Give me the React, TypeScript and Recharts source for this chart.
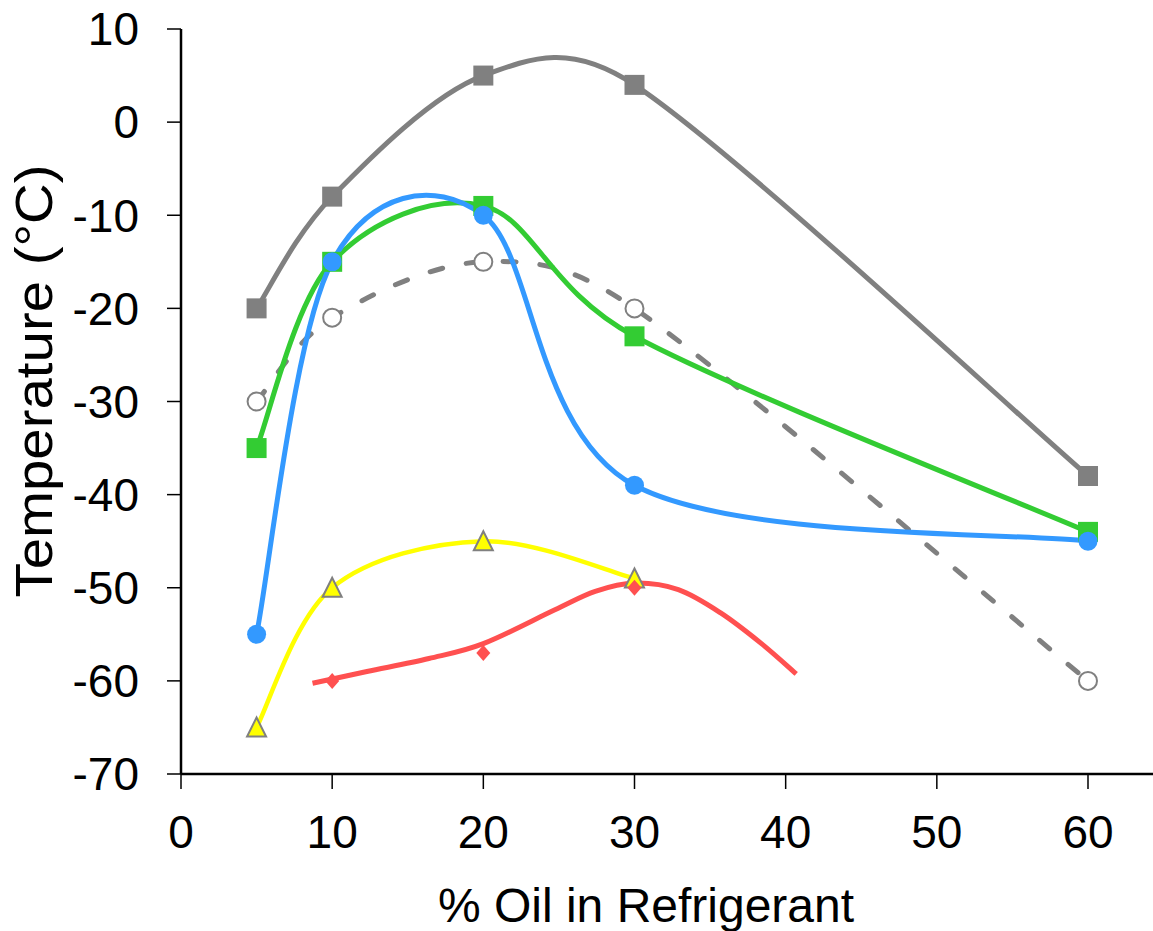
import React from 'react';
import { ComposedChart, Line, XAxis, YAxis, Label } from 'recharts';

// ---- data ----
const X_VALUES = [5, 10, 20, 30, 60];
const GRAY_SOLID = [-20, -8, 5, 4, -38];
const GRAY_DASHED = [-30, -21, -15, -20, -60];
const GREEN = [-35, -15, -9, -23, -44];
const BLUE = [-55, -15, -10, -39, -45];
const YELLOW_X = [5, 10, 20, 30];
const YELLOW = [-65, -50, -45, -49];
const RED_X = [10, 20, 30];
const RED = [-60, -57, -50];
const RED_FIT_X = [8.7, 12.3, 16.4, 20, 24.7, 27.4, 30, 32.9, 35.7, 38.4, 40.7];
const RED_FIT_Y = [-60.25, -59, -57.6, -56, -52.4, -50.4, -49.5, -50.2, -52.7, -56, -59.25];
const X_TICKS = [0, 10, 20, 30, 40, 50, 60];
const Y_TICKS = [-70, -60, -50, -40, -30, -20, -10, 0, 10];

const toData = (xs: number[], ys: number[]) => xs.map((x, i) => ({ x, y: ys[i] }));

// ---- spreadsheet-style smoothed curve (Bezier, arms = (next - prev)/6, capped at half segment) ----
class SmoothCurve {
  _context: any;
  _pts: [number, number][] = [];
  _line: number = NaN;
  constructor(context: any) { this._context = context; }
  areaStart() { this._line = 0; }
  areaEnd() { this._line = NaN; }
  lineStart() { this._pts = []; }
  point(x: number, y: number) { this._pts.push([+x, +y]); }
  lineEnd() {
    const p = this._pts;
    const ctx = this._context;
    const n = p.length;
    if (n === 0) return;
    if (this._line) ctx.lineTo(p[0][0], p[0][1]); else ctx.moveTo(p[0][0], p[0][1]);
    for (let i = 0; i < n - 1; i++) {
      const p0 = p[i - 1] || p[i];
      const p1 = p[i];
      const p2 = p[i + 1];
      const p3 = p[i + 2] || p[i + 1];
      const d = Math.hypot(p2[0] - p1[0], p2[1] - p1[1]);
      let a1x = (p2[0] - p0[0]) / 6, a1y = (p2[1] - p0[1]) / 6;
      let a2x = (p3[0] - p1[0]) / 6, a2y = (p3[1] - p1[1]) / 6;
      const l1 = Math.hypot(a1x, a1y), l2 = Math.hypot(a2x, a2y);
      if (l1 > d / 2 && l1 > 0) { a1x *= d / 2 / l1; a1y *= d / 2 / l1; }
      if (l2 > d / 2 && l2 > 0) { a2x *= d / 2 / l2; a2y *= d / 2 / l2; }
      ctx.bezierCurveTo(p1[0] + a1x, p1[1] + a1y, p2[0] - a2x, p2[1] - a2y, p2[0], p2[1]);
    }
    this._line = 1 - this._line;
  }
}
const smooth: any = (context: any) => new SmoothCurve(context);

// ---- colours ----
const GRAY = '#808080';
const GREEN_C = '#33CC33';
const BLUE_C = '#3399FF';
const YELLOW_C = '#FFFF00';
const RED_C = '#FF5050';
const FONT = '"Liberation Sans", Arial, Helvetica, sans-serif';

// ---- markers ----
const squareDot = (color: string) => (p: any) => (
  <rect key={`s${p.index}`} x={p.cx - 10} y={p.cy - 10} width={20} height={20} fill={color} />
);
const circleDot = (p: any) => <circle key={`c${p.index}`} cx={p.cx} cy={p.cy} r={9.5} fill={BLUE_C} />;
const hollowDot = (p: any) => (
  <circle key={`h${p.index}`} cx={p.cx} cy={p.cy} r={9} fill="#fff" stroke={GRAY} strokeWidth={2} />
);
const triangleDot = (p: any) => (
  <polygon
    key={`t${p.index}`}
    points={`${p.cx},${p.cy - 10} ${p.cx - 9.5},${p.cy + 9} ${p.cx + 9.5},${p.cy + 9}`}
    fill={YELLOW_C}
    stroke={GRAY}
    strokeWidth={2}
  />
);
const diamondDot = (p: any) => (
  <polygon
    key={`d${p.index}`}
    points={`${p.cx},${p.cy - 8} ${p.cx + 7},${p.cy} ${p.cx},${p.cy + 8} ${p.cx - 7},${p.cy}`}
    fill={RED_C}
  />
);

const tickStyle = { fontSize: 46, fill: '#000', fontFamily: FONT };

export default function App() {
  return (
    <div style={{ position: 'absolute', left: 0, top: 0, width: 1153, height: 931, background: '#fff' }}>
      <ComposedChart width={1153} height={931} margin={{ top: 29, right: 0, bottom: 0, left: 0 }}>
        <XAxis
          type="number"
          dataKey="x"
          domain={[0, 64.3]}
          ticks={X_TICKS}
          allowDataOverflow
          height={157}
          tickSize={15}
          tickMargin={26}
          tick={tickStyle}
          axisLine={{ stroke: '#000', strokeWidth: 2.5 }}
          tickLine={{ stroke: '#000', strokeWidth: 1.5 }}
        >
          <Label
            content={() => (
              <text x={646} y={922} textAnchor="middle" fontSize={48} fontFamily={FONT} fill="#000">
                % Oil in Refrigerant
              </text>
            )}
          />
        </XAxis>
        <YAxis
          type="number"
          domain={[-70, 10]}
          ticks={Y_TICKS}
          allowDataOverflow
          width={181}
          tickSize={14}
          tickMargin={28}
          tick={tickStyle}
          axisLine={{ stroke: '#000', strokeWidth: 2.5 }}
          tickLine={{ stroke: '#000', strokeWidth: 1.5 }}
        >
          <Label
            content={() => (
              <text
                x={0}
                y={0}
                transform="translate(52,381) rotate(-90)"
                textAnchor="middle"
                fontSize={52}
                textLength={433}
                lengthAdjust="spacingAndGlyphs"
                fontFamily={FONT}
                fill="#000"
              >
                Temperature (°C)
              </text>
            )}
          />
        </YAxis>

        <Line data={toData(X_VALUES, GRAY_SOLID)} dataKey="y" type={smooth} stroke={GRAY} strokeWidth={5}
          dot={squareDot(GRAY)} activeDot={false} isAnimationActive={false} />
        <Line data={toData(X_VALUES, GRAY_DASHED)} dataKey="y" type={smooth} stroke={GRAY} strokeWidth={5}
          strokeDasharray="13 24" strokeLinecap="round" dot={hollowDot} activeDot={false} isAnimationActive={false} />
        <Line data={toData(X_VALUES, GREEN)} dataKey="y" type={smooth} stroke={GREEN_C} strokeWidth={5}
          dot={squareDot(GREEN_C)} activeDot={false} isAnimationActive={false} />
        <Line data={toData(X_VALUES, BLUE)} dataKey="y" type={smooth} stroke={BLUE_C} strokeWidth={5}
          dot={circleDot} activeDot={false} isAnimationActive={false} />
        <Line data={toData(YELLOW_X, YELLOW)} dataKey="y" type={smooth} stroke={YELLOW_C} strokeWidth={4.5}
          dot={triangleDot} activeDot={false} isAnimationActive={false} />
        <Line data={toData(RED_FIT_X, RED_FIT_Y)} dataKey="y" type={smooth} stroke={RED_C} strokeWidth={5}
          dot={false} activeDot={false} isAnimationActive={false} />
        <Line data={toData(RED_X, RED)} dataKey="y" stroke="none" dot={diamondDot} activeDot={false}
          isAnimationActive={false} />
      </ComposedChart>
    </div>
  );
}
